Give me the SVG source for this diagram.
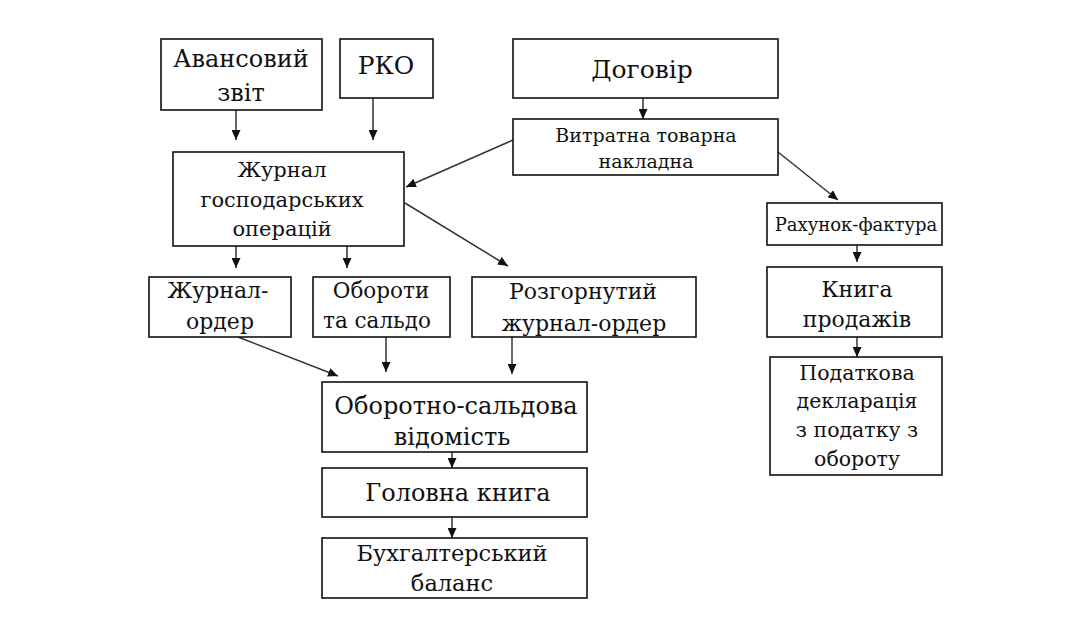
<svg xmlns="http://www.w3.org/2000/svg" width="1085" height="640" viewBox="0 0 1085 640">
<style>
.box{fill:#fff;stroke:#111;stroke-width:1.6}
.t{font-family:"DejaVu Serif","Liberation Serif",serif;fill:#111;text-anchor:middle}
.c{stroke:#333;stroke-width:1.5;fill:none;marker-end:url(#ah)}
</style>
<defs>
<marker id="ah" markerUnits="userSpaceOnUse" markerWidth="11" markerHeight="9" refX="10" refY="4.5" orient="auto">
<path d="M0,0 L10,4.5 L0,9 z" fill="#111"/>
</marker>
</defs>
<rect width="1085" height="640" fill="#fff"/>
<g id="connectors">
<line class="c" x1="236" y1="110" x2="236" y2="140"/>
<line class="c" x1="373" y1="98" x2="373" y2="140"/>
<line class="c" x1="513" y1="140" x2="406" y2="187"/>
<line class="c" x1="405" y1="203" x2="508" y2="266"/>
<line class="c" x1="236" y1="246" x2="236" y2="268"/>
<line class="c" x1="347" y1="246" x2="347" y2="268"/>
<line class="c" x1="238" y1="337" x2="338" y2="376"/>
<line class="c" x1="386" y1="337" x2="386" y2="372"/>
<line class="c" x1="512" y1="337" x2="512" y2="374"/>
<line class="c" x1="452" y1="452" x2="452" y2="468"/>
<line class="c" x1="452" y1="517" x2="452" y2="538"/>
<line class="c" x1="643" y1="98" x2="643" y2="119"/>
<line class="c" x1="778" y1="152" x2="838" y2="200"/>
<line class="c" x1="857" y1="245" x2="857" y2="262"/>
<line class="c" x1="857" y1="337" x2="857" y2="357"/>
</g>
<g id="avansovyi">
<rect class="box" x="161" y="39" width="161" height="71"/>
<text class="t" x="241" y="67" font-size="24">Авансовий</text>
<text class="t" x="241" y="101" font-size="24">звіт</text>
</g>
<g id="rko">
<rect class="box" x="340" y="39" width="93" height="59"/>
<text class="t" x="386" y="74" font-size="25">РКО</text>
</g>
<g id="dogovir">
<rect class="box" x="513" y="39" width="265" height="59"/>
<text class="t" x="642" y="78" font-size="25">Договір</text>
</g>
<g id="vytratna">
<rect class="box" x="513" y="119" width="265" height="56"/>
<text class="t" x="646" y="142" font-size="19">Витратна товарна</text>
<text class="t" x="646" y="168" font-size="19">накладна</text>
</g>
<g id="zhurnal-gosp">
<rect class="box" x="173" y="152" width="231" height="94"/>
<text class="t" x="282" y="177" font-size="21">Журнал</text>
<text class="t" x="282" y="207" font-size="21">господарських</text>
<text class="t" x="282" y="236" font-size="21">операцій</text>
</g>
<g id="zhurnal-order">
<rect class="box" x="149" y="277" width="142" height="60"/>
<text class="t" x="218" y="298" font-size="22">Журнал-</text>
<text class="t" x="220" y="329" font-size="22">ордер</text>
</g>
<g id="oboroty">
<rect class="box" x="313" y="277" width="137" height="60"/>
<text class="t" x="381" y="298" font-size="21.5">Обороти</text>
<text class="t" x="377" y="328" font-size="21.5">та сальдо</text>
</g>
<g id="rozgornutyi">
<rect class="box" x="472" y="277" width="224" height="60"/>
<text class="t" x="583" y="299" font-size="22">Розгорнутий</text>
<text class="t" x="584" y="331" font-size="22">журнал-ордер</text>
</g>
<g id="oborotno">
<rect class="box" x="322" y="382" width="265" height="70"/>
<text class="t" x="456" y="414" font-size="24">Оборотно-сальдова</text>
<text class="t" x="452" y="445" font-size="24">відомість</text>
</g>
<g id="holovna">
<rect class="box" x="322" y="468" width="265" height="49"/>
<text class="t" x="458" y="501" font-size="24">Головна книга</text>
</g>
<g id="balans">
<rect class="box" x="322" y="538" width="265" height="60"/>
<text class="t" x="452" y="561" font-size="22.5">Бухгалтерський</text>
<text class="t" x="452" y="591" font-size="22.5">баланс</text>
</g>
<g id="rakhunok">
<rect class="box" x="767" y="203" width="175" height="42"/>
<text class="t" x="856" y="231" font-size="18">Рахунок-фактура</text>
</g>
<g id="knyha">
<rect class="box" x="767" y="267" width="175" height="70"/>
<text class="t" x="857" y="297" font-size="22">Книга</text>
<text class="t" x="857" y="327" font-size="22">продажів</text>
</g>
<g id="deklaratsiia">
<rect class="box" x="770" y="357" width="172" height="118"/>
<text class="t" x="857" y="380" font-size="20.5">Податкова</text>
<text class="t" x="857" y="408" font-size="20.5">декларація</text>
<text class="t" x="857" y="437" font-size="20.5">з податку з</text>
<text class="t" x="857" y="466" font-size="20.5">обороту</text>
</g>
</svg>
